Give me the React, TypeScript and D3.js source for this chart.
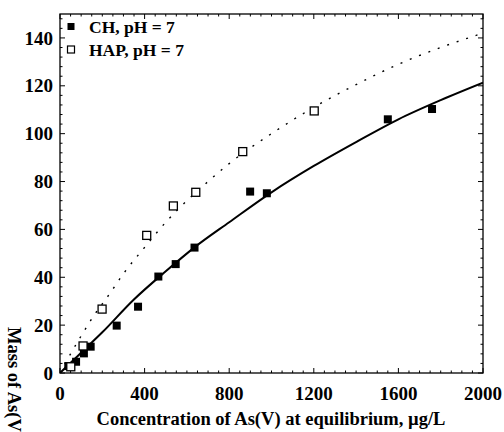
import * as d3 from "d3";

// CH, pH = 7 (filled squares)
const chX = [39, 76, 113, 145, 268, 369, 465, 547, 636, 899, 978, 1550, 1759];
const chY = [2.9, 4.7, 8.2, 11, 19.8, 27.7, 40.3, 45.5, 52.4, 75.8, 75.1, 106, 110.3];

// HAP, pH = 7 (open squares)
const hapX = [51, 109, 199, 410, 536, 642, 864, 1202];
const hapY = [2.6, 11.3, 26.7, 57.5, 69.8, 75.5, 92.5, 109.5];

// fitted curves
const chFitX = [0, 100, 200, 347, 500, 636, 800, 1000, 1200, 1400, 1600, 1800, 2000];
const chFitY = [0, 8.5, 17, 30.5, 42.5, 52.5, 63, 75.5, 86.5, 96.5, 106, 114, 121.3];
const hapFitX = [0, 50, 100, 160, 230, 300, 400, 500, 600, 700, 800, 1000, 1200, 1400, 1600, 1800, 2000];
const hapFitY = [0, 8, 15.5, 24, 32.5, 41.5, 52.5, 63, 72, 80, 87.5, 100, 111, 120.5, 129, 136, 142];

const xTicks = [0, 400, 800, 1200, 1600, 2000];
const yTicks = [0, 20, 40, 60, 80, 100, 120, 140];
const legendLabels = ["CH, pH = 7", "HAP, pH = 7"];

const W = 504;
const H = 432;
const margin = { top: 14, right: 21, bottom: 59, left: 60 };
const font = "'Liberation Serif', 'Times New Roman', serif";

export default function App() {
  const x = d3.scaleLinear().domain([0, 2000]).range([margin.left, W - margin.right]);
  const y = d3.scaleLinear().domain([0, 150]).range([H - margin.bottom, margin.top]);
  const x0 = x.range()[0], x1 = x.range()[1];
  const y0 = y.range()[0], y1 = y.range()[1];

  const line = d3
    .line<[number, number]>()
    .x((d) => x(d[0]))
    .y((d) => y(d[1]))
    .curve(d3.curveMonotoneX);

  const chFit = line(chFitX.map((v, i) => [v, chFitY[i]]) as [number, number][]) || "";
  const hapFit = line(hapFitX.map((v, i) => [v, hapFitY[i]]) as [number, number][]) || "";

  const xMinor = d3.range(0, 2001, 50).filter((v) => !xTicks.includes(v));
  const yMinor = d3.range(0, 151, 4).filter((v) => !yTicks.includes(v));
  const major = 5;
  const minor = 2.5;
  const s = 8;

  return (
    <div style={{ position: "absolute", left: 0, top: 0 }}>
      <svg width={W} height={H} style={{ display: "block", background: "#fff" }}>
        <defs>
          <clipPath id="plot">
            <rect x={x0} y={y1} width={x1 - x0} height={y0 - y1} />
          </clipPath>
        </defs>

        {/* ticks on all four sides, pointing in */}
        <g stroke="#000" strokeWidth={1}>
          {xTicks.map((t) => (
            <g key={"xt" + t}>
              <line x1={x(t)} x2={x(t)} y1={y0} y2={y0 - major} />
              <line x1={x(t)} x2={x(t)} y1={y1} y2={y1 + major} />
            </g>
          ))}
          {xMinor.map((t) => (
            <g key={"xm" + t}>
              <line x1={x(t)} x2={x(t)} y1={y0} y2={y0 - minor} />
              <line x1={x(t)} x2={x(t)} y1={y1} y2={y1 + minor} />
            </g>
          ))}
          {yTicks.map((t) => (
            <g key={"yt" + t}>
              <line x1={x0} x2={x0 + major} y1={y(t)} y2={y(t)} />
              <line x1={x1} x2={x1 - major} y1={y(t)} y2={y(t)} />
            </g>
          ))}
          {yMinor.map((t) => (
            <g key={"ym" + t}>
              <line x1={x0} x2={x0 + minor} y1={y(t)} y2={y(t)} />
              <line x1={x1} x2={x1 - minor} y1={y(t)} y2={y(t)} />
            </g>
          ))}
        </g>

        <rect x={x0} y={y1} width={x1 - x0} height={y0 - y1} fill="none" stroke="#000" strokeWidth={1.3} />

        {/* tick labels */}
        <g fontFamily={font} fontWeight="bold" fontSize={19} fill="#000">
          {xTicks.map((t) => (
            <text key={"xl" + t} x={x(t)} y={y0 + 27} textAnchor="middle">
              {t}
            </text>
          ))}
          {yTicks.map((t) => (
            <text key={"yl" + t} x={x0 - 7} y={y(t)} dy="0.35em" textAnchor="end">
              {t}
            </text>
          ))}
        </g>

        {/* axis titles */}
        <text x={271} y={425} textAnchor="middle" fontFamily={font} fontWeight="bold" fontSize={18.5}>
          Concentration of As(V) at equilibrium, µg/L
        </text>
        <text
          transform="translate(8,327) rotate(90)"
          textAnchor="start"
          fontFamily={font}
          fontWeight="bold"
          fontSize={18.5}
        >
          Mass of As(V) adsorbed, µg/g
        </text>

        {/* fitted curves */}
        <g clipPath="url(#plot)">
          <path d={hapFit} fill="none" stroke="#000" strokeWidth={1.4} strokeDasharray="2,8" />
          <path d={chFit} fill="none" stroke="#000" strokeWidth={2} />
        </g>

        {/* data */}
        {chX.map((v, i) => (
          <rect key={"ch" + i} x={x(v) - s / 2} y={y(chY[i]) - s / 2} width={s} height={s} fill="#000" />
        ))}
        {hapX.map((v, i) => (
          <rect
            key={"hap" + i}
            x={x(v) - s / 2}
            y={y(hapY[i]) - s / 2}
            width={s}
            height={s}
            fill="#fff"
            stroke="#000"
            strokeWidth={1.3}
          />
        ))}

        {/* legend */}
        <g fontFamily={font} fontWeight="bold" fontSize={17.5}>
          <rect x={71 - 3.5} y={26.5 - 3.5} width={7} height={7} fill="#000" />
          <text x={89} y={32.5}>
            {legendLabels[0]}
          </text>
          <rect x={71 - 3.5} y={49.5 - 3.5} width={7} height={7} fill="#fff" stroke="#000" strokeWidth={1.2} />
          <text x={89} y={55.5}>
            {legendLabels[1]}
          </text>
        </g>
      </svg>
    </div>
  );
}
